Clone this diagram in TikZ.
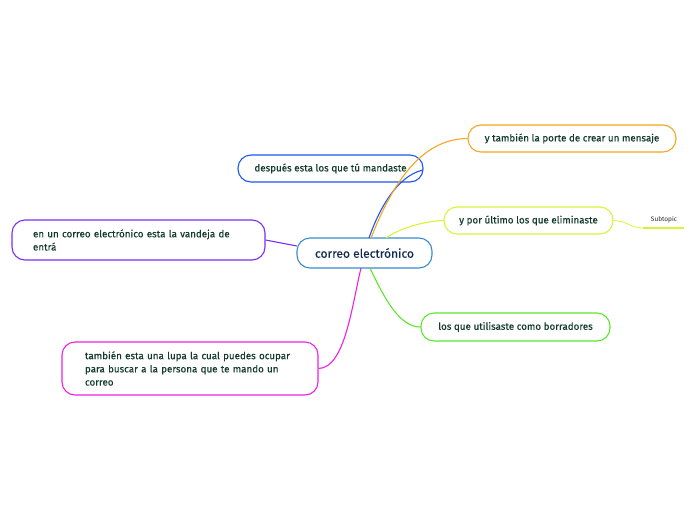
\documentclass[tikz,border=0pt]{standalone}
\usepackage{fontspec}
\setmainfont{Fira Sans}[FakeBold=0.35]
\newfontfamily\plainfont{Fira Sans}
\begin{document}
\begin{tikzpicture}[x=1pt,y=-1pt,
  topic/.style={draw, line width=1.1pt, rounded corners=13pt, fill=white, text=txt,
    font=\fontsize{9.8}{13.2}\selectfont, inner sep=0pt, align=left},
  conn/.style={line width=1.1pt},
]
\definecolor{txt}{HTML}{123B2E}
\definecolor{ctxt}{HTML}{102A50}
\definecolor{cblue}{HTML}{3A8AD0}
\definecolor{dblue}{HTML}{1F55F0}
\definecolor{corange}{HTML}{F5A623}
\definecolor{cyel}{HTML}{D5F53A}
\definecolor{cpurp}{HTML}{7A2FF0}
\definecolor{cgreen}{HTML}{5EE62A}
\definecolor{cmag}{HTML}{EA22E6}
\useasboundingbox (0,0) rectangle (696,520);
% central
\node[topic, draw=cblue, minimum width=135pt, minimum height=30pt, align=center,
  font=\fontsize{12}{14}\selectfont, text=ctxt] (c) at (364.5,253) {correo electrónico};
% topics
\node[topic, draw=dblue, minimum width=185pt, minimum height=27pt, align=center] (b) at (330.5,168.5) {después esta los que tú mandaste};
\node[topic, draw=corange, minimum width=208pt, minimum height=27pt, align=center] (o) at (572,138.5) {y también la porte de crear un mensaje};
\node[topic, draw=cyel, minimum width=169pt, minimum height=27pt, align=center] (y) at (528.5,220.5) {y por último los que eliminaste};
\node[topic, draw=cpurp, minimum width=253pt, minimum height=40pt, text width=211pt] (p) at (138.5,240) {en un correo electrónico esta la vandeja de\\entrá};
\node[topic, draw=cgreen, minimum width=189pt, minimum height=28pt, align=center] (g) at (515.5,327) {los que utilisaste como borradores};
\node[topic, draw=cmag, minimum width=256pt, minimum height=53pt, text width=210pt] (m) at (190,368.5) {también esta una lupa la cual puedes ocupar\\para buscar a la persona que te mando un\\correo};
% subtopic
\node[font=\plainfont\fontsize{6.5}{8}\selectfont, text=black!85, inner sep=0pt] (s) at (664,220) {Subtopic};
\coordinate (s1) at (643,228);
\coordinate (s2) at (684,228);
% connectors
\draw[conn, dblue] (369,238) .. controls (378,212) and (396,176) .. (423,170);
\draw[conn, corange] (371,238) .. controls (392,185) and (420,139) .. (o.west);
\draw[conn, cyel] (386,238) .. controls (400,228) and (425,221) .. (y.west);
\draw[conn, cpurp] (p.east) -- (297,246);
\draw[conn, cmag] (361,268) .. controls (352,305) and (345,368) .. (m.east);
\draw[conn, cgreen] (370,268) .. controls (385,300) and (400,327) .. (g.west);
\draw[line width=0.8pt, cyel] (y.east) .. controls (628,221) and (630,228) .. (s1);
\draw[line width=1.6pt, cyel] (s1) -- (s2);
\end{tikzpicture}
\end{document}
